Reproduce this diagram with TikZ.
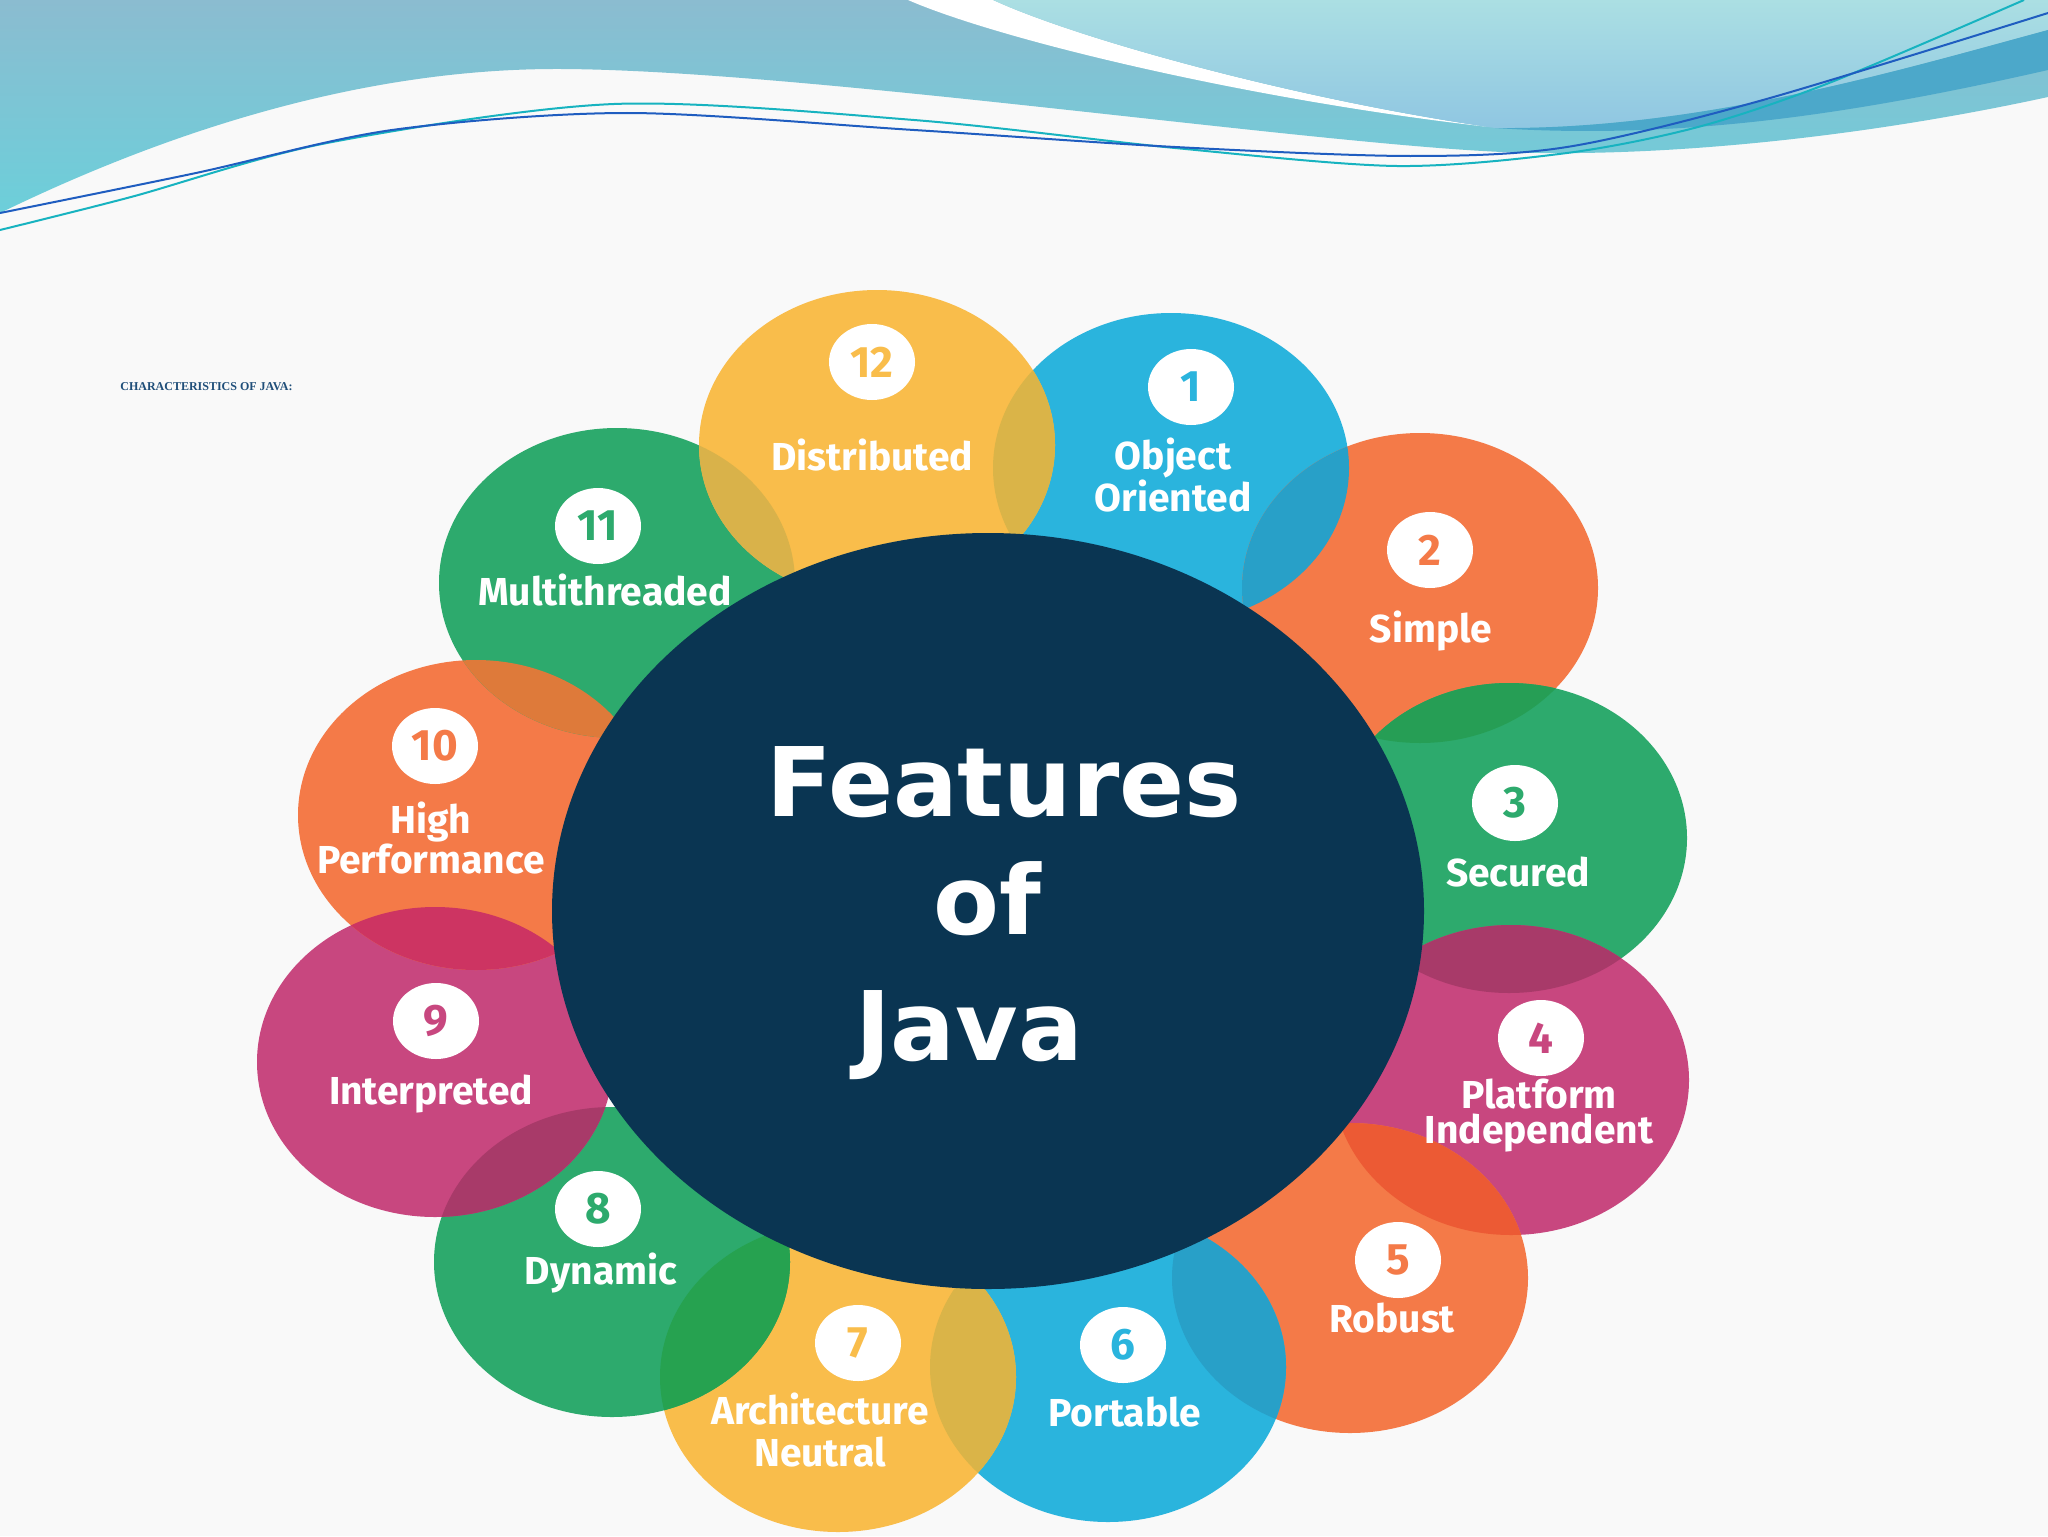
\documentclass[tikz,border=0pt]{standalone}
\usepackage{fontspec}
\usetikzlibrary{shapes.geometric}
\newfontfamily\labelfont{Fira Sans}
\newfontfamily\titlefont{DejaVu Sans}
\newfontfamily\headfont{Liberation Serif}

\definecolor{paper}{HTML}{F9F9F9}
\definecolor{bandtop}{HTML}{8BBCD0}
\definecolor{bandbot}{HTML}{6CCFDA}
\definecolor{lighttop}{HTML}{ABDFE3}
\definecolor{lightbot}{HTML}{8FC6E2}
\definecolor{bandeep}{HTML}{4CA8CA}
\definecolor{lineteal}{HTML}{17B3C0}
\definecolor{lineblue}{HTML}{1F5DC0}
\definecolor{headblue}{HTML}{1F4E79}
\definecolor{cyl}{HTML}{F9BD4B}
\definecolor{cbl}{HTML}{2AB4DD}
\definecolor{cor}{HTML}{F47A48}
\definecolor{cgr}{HTML}{2DAA6D}
\definecolor{cmg}{HTML}{C8477F}
\definecolor{navy}{HTML}{0A3552}
\definecolor{lyb}{HTML}{DAB448}
\definecolor{lbo}{HTML}{28A0C8}
\definecolor{lgo}{HTML}{269E55}
\definecolor{lmg}{HTML}{A83A69}
\definecolor{lom}{HTML}{EC5A34}
\definecolor{lgy}{HTML}{26A250}
\definecolor{lmo}{HTML}{CD3462}
\definecolor{log}{HTML}{DE7A3A}
\definecolor{lyg}{HTML}{D9B24A}

\tikzset{
  bubble/.style={x radius=89pt, y radius=77.5pt},
  badge/.style={ellipse, fill=white, minimum width=43pt, minimum height=38pt, inner sep=0pt,
    font=\labelfont\bfseries\fontsize{22}{22}\selectfont},
  feat/.style={text=white, align=center, inner sep=0pt,
    font=\labelfont\bfseries\fontsize{19.5}{#1}\selectfont},
  feat/.default=20,
  title/.style={text=white, anchor=base, font=\titlefont\bfseries\fontsize{48}{48}\selectfont},
  wline/.style={line width=1pt}
}

\begin{document}
\begin{tikzpicture}[x=0.5pt,y=0.5pt,yscale=-1,xscale=1]
\useasboundingbox (0,0) rectangle (2048,1536);
\fill[paper] (0,0) rectangle (2048,1536);

%Wave: band
\shade[top color=bandtop, bottom color=bandbot] (0,0) -- (2048,0) -- (2048,97) .. controls (1850,140) and (1650,158) .. (1502,152) .. controls (1300,143) and (800,70) .. (561,69) .. controls (350,68) and (150,140) .. (0,213) -- cycle ;
%Wave: white stripe
\fill[white] (908,0) .. controls (1000,40) and (1250,100) .. (1489,127) .. controls (1300,100) and (1080,40) .. (993,0) -- cycle ;
%Wave: light part
\shade[top color=lighttop, bottom color=lightbot] (993,0) -- (2048,0) -- (2048,30) .. controls (1900,70) and (1700,130) .. (1495,128) .. controls (1300,100) and (1080,40) .. (993,0) -- cycle ;
%Wave: deep band
\fill[bandeep] (1495,128) .. controls (1700,130) and (1900,70) .. (2048,30) -- (2048,70) .. controls (1850,115) and (1680,140) .. (1495,128) -- cycle ;
%Wave: lines
\draw[wline, lineteal] plot[smooth] coordinates {(0,230) (131,197) (327,143) (614,104) (914,120) (1175,148) (1397,166) (1567,153) (1698,127) (1829,83) (2024,0)} ;
\draw[wline, lineblue] plot[smooth] coordinates {(0,213) (196,173) (392,130) (627,113) (914,130) (1175,147) (1410,156) (1567,147) (1763,100) (2048,13)} ;

% Text Node
\node[anchor=base west, inner sep=0pt, text=headblue, font=\headfont\bfseries\fontsize{6}{6}\selectfont] (head) at (120,390) {CHARACTERISTICS OF JAVA:};

%Centres
\coordinate (c1) at (1171,468);
\coordinate (c2) at (1420,588);
\coordinate (c3) at (1509,838);
\coordinate (c4) at (1511,1080);
\coordinate (c5) at (1350,1278);
\coordinate (c6) at (1108,1367);
\coordinate (c7) at (838,1377);
\coordinate (c8) at (612,1262);
\coordinate (c9) at (435,1062);
\coordinate (c10) at (476,815);
\coordinate (c11) at (617,583);
\coordinate (c12) at (877,445);
\coordinate (hub) at (988,911);

%Shape: Ellipses
\fill[cbl] (c1) ellipse [bubble] ;
\fill[cor] (c2) ellipse [bubble] ;
\fill[cgr] (c3) ellipse [bubble] ;
\fill[cmg] (c4) ellipse [bubble] ;
\fill[cor] (c5) ellipse [bubble] ;
\fill[cbl] (c6) ellipse [bubble] ;
\fill[cyl] (c7) ellipse [bubble] ;
\fill[cgr] (c8) ellipse [bubble] ;
\fill[cmg] (c9) ellipse [bubble] ;
\fill[cor] (c10) ellipse [bubble] ;
\fill[cgr] (c11) ellipse [bubble] ;
\fill[cyl] (c12) ellipse [bubble] ;

%Overlaps
\begin{scope} \clip (c12) ellipse [bubble] ; \fill[lyb] (c1) ellipse [bubble] ; \end{scope}
\begin{scope} \clip (c1) ellipse [bubble] ; \fill[lbo] (c2) ellipse [bubble] ; \end{scope}
\begin{scope} \clip (c2) ellipse [bubble] ; \fill[lgo] (c3) ellipse [bubble] ; \end{scope}
\begin{scope} \clip (c3) ellipse [bubble] ; \fill[lmg] (c4) ellipse [bubble] ; \end{scope}
\begin{scope} \clip (c4) ellipse [bubble] ; \fill[lom] (c5) ellipse [bubble] ; \end{scope}
\begin{scope} \clip (c5) ellipse [bubble] ; \fill[lbo] (c6) ellipse [bubble] ; \end{scope}
\begin{scope} \clip (c6) ellipse [bubble] ; \fill[lyb] (c7) ellipse [bubble] ; \end{scope}
\begin{scope} \clip (c7) ellipse [bubble] ; \fill[lgy] (c8) ellipse [bubble] ; \end{scope}
\begin{scope} \clip (c8) ellipse [bubble] ; \fill[lmg] (c9) ellipse [bubble] ; \end{scope}
\begin{scope} \clip (c9) ellipse [bubble] ; \fill[lmo] (c10) ellipse [bubble] ; \end{scope}
\begin{scope} \clip (c10) ellipse [bubble] ; \fill[log] (c11) ellipse [bubble] ; \end{scope}
\begin{scope} \clip (c11) ellipse [bubble] ; \fill[lyg] (c12) ellipse [bubble] ; \end{scope}

%Shape: Hub
\fill[navy] (hub) ellipse [x radius=218pt, y radius=189pt] ;

% Badges
\node[badge, text=cbl] (n1) at (1191,387) {1};
\node[badge, text=cor] (n2) at (1430,550) {2};
\node[badge, text=cgr] (n3) at (1515,803) {3};
\node[badge, text=cmg] (n4) at (1541,1038) {4};
\node[badge, text=cor] (n5) at (1398,1260) {5};
\node[badge, text=cbl] (n6) at (1123,1345) {6};
\node[badge, text=cyl] (n7) at (858,1343) {7};
\node[badge, text=cgr] (n8) at (598,1209) {8};
\node[badge, text=cmg] (n9) at (436,1021) {9};
\node[badge, text=cor] (n10) at (435,746) {10};
\node[badge, text=cgr] (n11) at (598,526) {11};
\node[badge, text=cyl] (n12) at (872,362) {12};

% Text Nodes
\node[feat=21] (t1) at (1173,475) {Object\\Oriented};
\node[feat] (t2) at (1431,631) {Simple};
\node[feat] (t3) at (1518,872) {Secured};
\node[feat=17.5] (t4) at (1539,1116) {Platform\\Independent};
\node[feat] (t5) at (1392,1318) {Robust};
\node[feat] (t6) at (1125,1412) {Portable};
\node[feat=21] (t7) at (820,1430) {Architecture\\Neutral};
\node[feat] (t8) at (601,1273) {Dynamic};
\node[feat] (t9) at (431,1094) {Interpreted};
\node[feat=17.5] (t10) at (431,838) {High\\Performance};
\node[feat] (t11) at (605,590) {Multithreaded};
\node[feat] (t12) at (872,455) {Distributed};

% Title
\node[title] (ttl1) at (1004,816) {Features};
\node[title] (ttl2) at (987,934) {of};
\node[title] (ttl3) at (969,1060) {Java};

\end{tikzpicture}
\end{document}
